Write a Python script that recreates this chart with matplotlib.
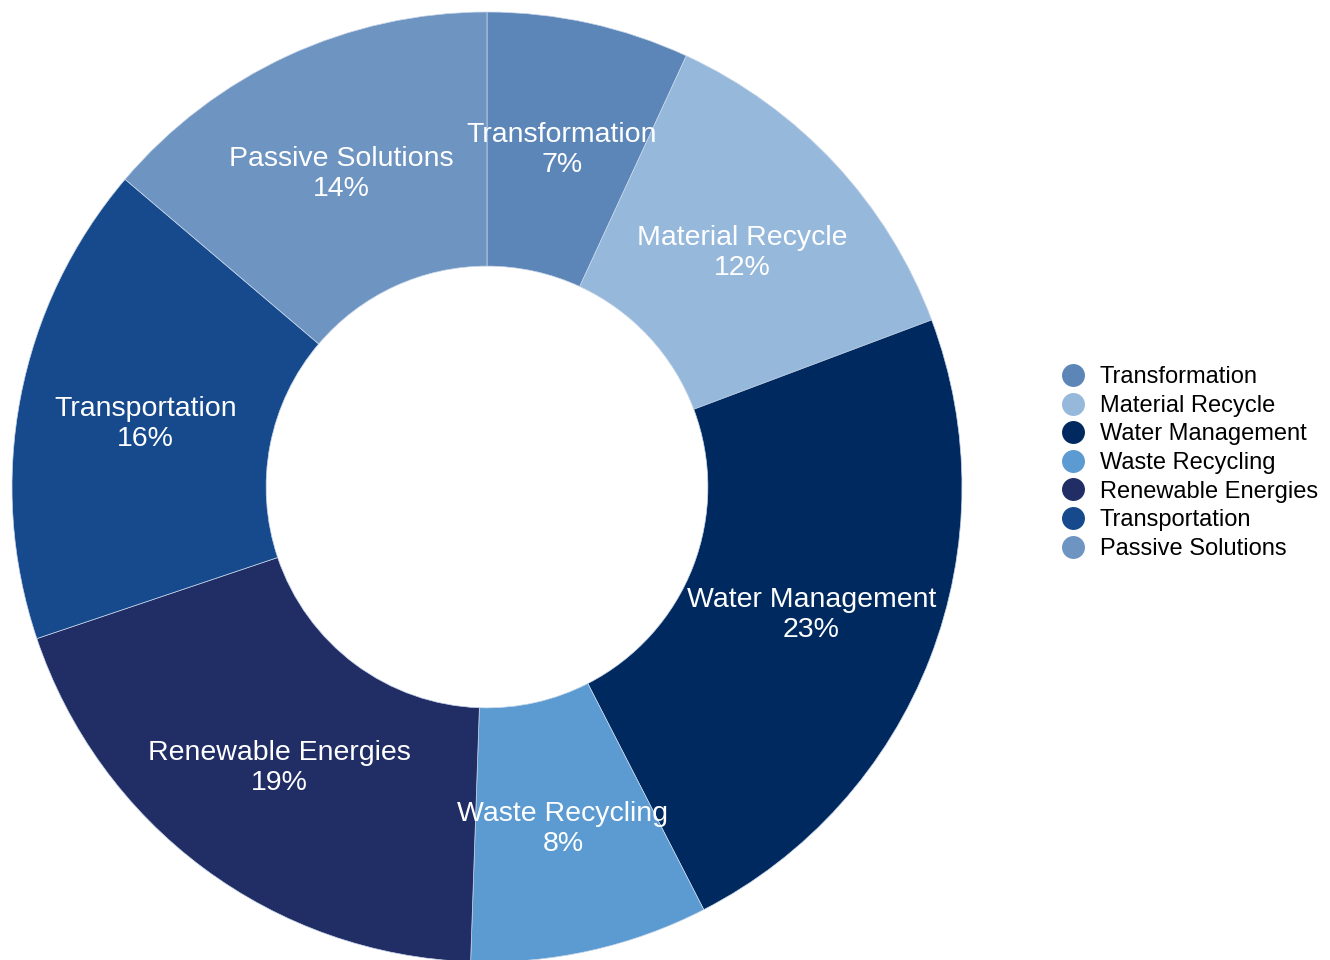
import matplotlib
matplotlib.use("Agg")
import matplotlib.pyplot as plt
from matplotlib.lines import Line2D
import numpy as np

plt.rcParams["font.family"] = ["Liberation Sans", "DejaVu Sans"]

categories = ["Transformation", "Material Recycle", "Water Management",
              "Waste Recycling", "Renewable Energies", "Transportation",
              "Passive Solutions"]
shares = [6.9, 12.4, 23.2, 8.1, 19.3, 16.4, 13.8]
colors = ["#5d86b8", "#95b8db", "#002a5f", "#5b9bd2", "#212e66", "#164a8d", "#6e94c1"]

W, H = 1330, 960
fig = plt.figure(figsize=(W / 100, H / 100), dpi=100)

# pie centre (487, 487) px, outer radius 475 px
cx, cy, r = 487, 487, 475
ax = fig.add_axes([(cx - r) / W, (H - cy - r) / H, 2 * r / W, 2 * r / H])
ax.axis("off")

hole = 0.465
wedges, _ = ax.pie(
    shares, colors=colors, startangle=90, counterclock=False, radius=1,
    wedgeprops=dict(width=1 - hole, edgecolor="#c8d6ea", linewidth=0.5),
)
ax.set_xlim(-1, 1)
ax.set_ylim(-1, 1)
ax.set_aspect("equal")

total = sum(shares)
for w, name, v in zip(wedges, categories, shares):
    ang = np.deg2rad((w.theta1 + w.theta2) / 2)
    rr = (1 + hole) / 2
    x, y = rr * np.cos(ang), rr * np.sin(ang) - 0.005
    ax.text(x, y, f"{name}\n{v / total * 100:.0f}%", ha="center", va="center",
            color="white", fontsize=20.5, linespacing=1.2)

handles = [Line2D([], [], marker="o", linestyle="", markersize=15.5,
                  markerfacecolor=c, markeredgecolor=c) for c in colors]
fig.legend(handles, categories, loc="center left", bbox_to_anchor=(1061 / W, 1 - 463 / H),
           frameon=False, fontsize=17, handletextpad=0.65, labelspacing=0.28,
           borderaxespad=0, borderpad=0, handlelength=1.0)

fig.savefig("out.png", dpi=100)
